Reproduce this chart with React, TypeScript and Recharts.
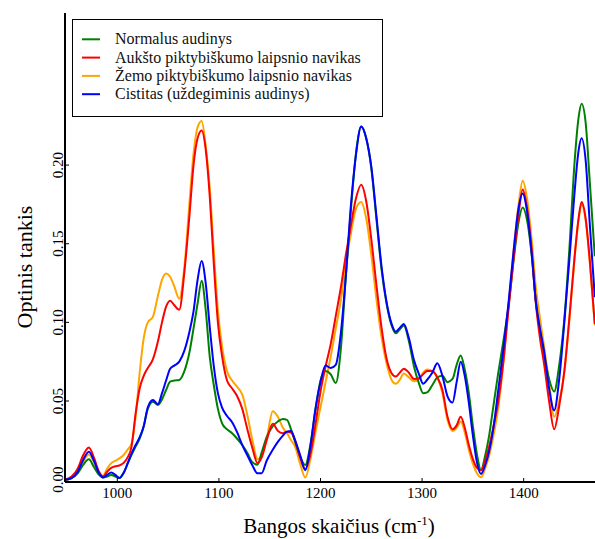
import React from "react";
import { LineChart, Line, XAxis, YAxis } from "recharts";

// wavenumber grid (cm-1)
const wavenumbers = [
  949, 955, 961, 966, 972, 977, 982, 986, 990, 994, 998,
  1002, 1006, 1010, 1014, 1018, 1022, 1026, 1030, 1035, 1040,
  1044, 1048, 1052, 1056, 1061, 1066, 1071, 1075, 1079, 1083,
  1087, 1091, 1095, 1099, 1103, 1108, 1113, 1118, 1123, 1128,
  1133, 1138, 1142, 1147, 1153, 1158, 1163, 1167, 1171, 1175,
  1180, 1185, 1190, 1195, 1200, 1205, 1210, 1215, 1220, 1225,
  1230, 1235, 1240, 1245, 1250, 1255, 1260, 1265, 1270, 1274,
  1278, 1282, 1287, 1292, 1297, 1301, 1305, 1310, 1315, 1320,
  1325, 1330, 1334, 1338, 1342, 1346, 1350, 1354, 1358, 1362,
  1366, 1370, 1375, 1380, 1385, 1390, 1395, 1399, 1403, 1408,
  1412, 1416, 1420, 1425, 1430, 1435, 1440, 1445, 1450, 1454,
  1457, 1461, 1465, 1470,
];

const normal = [
  0.0, 0.001, 0.004, 0.009, 0.0129, 0.008, 0.003, 0.0013, 0.002, 0.003, 0.002,
  0.001, 0.004, 0.01, 0.0157, 0.021, 0.026, 0.034, 0.045, 0.0496, 0.0475,
  0.051, 0.057, 0.0623, 0.063, 0.0634, 0.069, 0.081, 0.096, 0.112, 0.1265,
  0.108, 0.078, 0.06, 0.045, 0.036, 0.032, 0.0295, 0.026, 0.022, 0.017,
  0.011, 0.0095, 0.017, 0.027, 0.034, 0.037, 0.0385, 0.038, 0.032, 0.024,
  0.0146, 0.0093, 0.022, 0.044, 0.063, 0.069, 0.067, 0.0615, 0.083, 0.13,
  0.172, 0.208, 0.2245, 0.217, 0.198, 0.166, 0.134, 0.112, 0.098, 0.093,
  0.0955, 0.098, 0.088, 0.072, 0.061, 0.055, 0.0555, 0.06, 0.065, 0.066,
  0.062, 0.064, 0.073, 0.079, 0.07, 0.055, 0.034, 0.016, 0.006, 0.015,
  0.028, 0.046, 0.068, 0.088, 0.11, 0.139, 0.164, 0.173, 0.166, 0.142,
  0.113, 0.095, 0.08, 0.064, 0.056, 0.073, 0.102, 0.147, 0.201, 0.23,
  0.239, 0.227, 0.19, 0.142,
];

const highGrade = [
  0.0, 0.002, 0.007, 0.015, 0.0205, 0.014, 0.005, 0.002, 0.005, 0.0075, 0.0085,
  0.009, 0.0105, 0.014, 0.021, 0.042, 0.058, 0.066, 0.071, 0.0765, 0.088,
  0.1, 0.11, 0.1138, 0.111, 0.108, 0.132, 0.168, 0.2, 0.217, 0.222,
  0.21, 0.18, 0.137, 0.1, 0.079, 0.063, 0.058, 0.053, 0.045, 0.032,
  0.02, 0.0105, 0.014, 0.025, 0.0355, 0.031, 0.0295, 0.0305, 0.03, 0.025,
  0.014, 0.0066, 0.016, 0.035, 0.056, 0.072, 0.086, 0.104, 0.122, 0.143,
  0.162, 0.179, 0.1875, 0.177, 0.153, 0.124, 0.097, 0.077, 0.0676, 0.0655,
  0.068, 0.0705, 0.068, 0.064, 0.0645, 0.067, 0.069, 0.069, 0.065, 0.057,
  0.04, 0.032, 0.0345, 0.04, 0.033, 0.022, 0.013, 0.0075, 0.006, 0.012,
  0.021, 0.033, 0.05, 0.075, 0.108, 0.14, 0.169, 0.1845, 0.174, 0.145,
  0.112, 0.09, 0.074, 0.05, 0.032, 0.047, 0.069, 0.103, 0.141, 0.166,
  0.1765, 0.166, 0.14, 0.099,
];

const lowGrade = [
  0.0, 0.001, 0.005, 0.011, 0.016, 0.011, 0.004, 0.0025, 0.007, 0.0105, 0.012,
  0.0135, 0.0155, 0.019, 0.023, 0.04, 0.068, 0.09, 0.1, 0.1035, 0.117,
  0.127, 0.131, 0.129, 0.123, 0.115, 0.135, 0.176, 0.207, 0.224, 0.228,
  0.212, 0.185, 0.145, 0.108, 0.085, 0.069, 0.063, 0.059, 0.054, 0.041,
  0.025, 0.013, 0.015, 0.026, 0.0435, 0.04, 0.033, 0.0295, 0.025, 0.021,
  0.01, 0.0013, 0.013, 0.03, 0.046, 0.062, 0.078, 0.096, 0.114, 0.137,
  0.157, 0.1725, 0.1765, 0.166, 0.143, 0.115, 0.091, 0.074, 0.0634, 0.061,
  0.0635, 0.0675, 0.065, 0.0625, 0.064, 0.068, 0.07, 0.069, 0.065, 0.055,
  0.038, 0.031, 0.033, 0.037, 0.03, 0.019, 0.01, 0.004, 0.0015, 0.007,
  0.015, 0.027, 0.046, 0.074, 0.11, 0.145, 0.175, 0.19, 0.18, 0.152,
  0.122, 0.103, 0.085, 0.062, 0.04, 0.05, 0.068, 0.102, 0.14, 0.165,
  0.175, 0.165, 0.139, 0.098,
];

const cystitis = [
  0.0, 0.001, 0.005, 0.012, 0.0178, 0.012, 0.004, 0.0013, 0.003, 0.0045, 0.003,
  0.001, 0.004, 0.01, 0.0167, 0.022, 0.027, 0.034, 0.046, 0.0506, 0.048,
  0.055, 0.063, 0.0705, 0.0725, 0.075, 0.082, 0.094, 0.107, 0.127, 0.139,
  0.125, 0.097, 0.072, 0.055, 0.046, 0.0405, 0.0365, 0.03, 0.022, 0.0155,
  0.009, 0.004, 0.004, 0.012, 0.019, 0.024, 0.028, 0.0305, 0.031, 0.025,
  0.0155, 0.006, 0.021, 0.045, 0.062, 0.0725, 0.071, 0.073, 0.093, 0.13,
  0.175, 0.207, 0.2245, 0.217, 0.199, 0.168, 0.136, 0.113, 0.099, 0.094,
  0.0965, 0.099, 0.09, 0.076, 0.067, 0.061, 0.0635, 0.068, 0.074, 0.066,
  0.053, 0.049, 0.062, 0.075, 0.066, 0.049, 0.028, 0.011, 0.0036, 0.009,
  0.018, 0.032, 0.057, 0.083, 0.112, 0.145, 0.173, 0.182, 0.172, 0.143,
  0.113, 0.096, 0.082, 0.058, 0.044, 0.064, 0.1, 0.14, 0.182, 0.209,
  0.217, 0.203, 0.163, 0.116,
];

const xTicks = [1000, 1100, 1200, 1300, 1400];
const yTicks = [0, 0.05, 0.1, 0.15, 0.2];

// legend order
const seriesKeys = ["normal", "highGrade", "lowGrade", "cystitis"];
const seriesNames = [
  "Normalus audinys",
  "Aukšto piktybiškumo laipsnio navikas",
  "Žemo piktybiškumo laipsnio navikas",
  "Cistitas (uždegiminis audinys)",
];
const seriesColors = ["#008000", "#ff0000", "#ffa500", "#0000ff"];
// drawing order (orange under red)
const drawOrder = [2, 0, 1, 3];

const data = wavenumbers.map((wn, i) => ({
  wn,
  normal: normal[i],
  highGrade: highGrade[i],
  lowGrade: lowGrade[i],
  cystitis: cystitis[i],
}));

const X_DOMAIN: [number, number] = [948.5, 1470.2];
const Y_DOMAIN: [number, number] = [-0.0015, 0.2967];
const FONT = '"Liberation Serif", "Times New Roman", serif';

function XTick(props: any) {
  const { x, y, payload } = props;
  return (
    <g>
      <line x1={x} x2={x} y1={y - 4} y2={y - 8} stroke="#000" strokeWidth={1} />
      <text x={x} y={y} dy={12} textAnchor="middle" fontSize={15} fontFamily={FONT} fill="#000">
        {payload.value}
      </text>
    </g>
  );
}

function YTick(props: any) {
  const { x, y, payload } = props;
  return (
    <g>
      <line x1={x + 2} x2={x + 6} y1={y} y2={y} stroke="#000" strokeWidth={1} />
      <text
        x={x}
        y={y}
        transform={`rotate(-90, ${x}, ${y})`}
        textAnchor="middle"
        fontSize={15}
        fontFamily={FONT}
        fill="#000"
      >
        {Number(payload.value).toFixed(2)}
      </text>
    </g>
  );
}

export default function App() {
  return (
    <div style={{ position: "absolute", left: 0, top: 0, width: 595, height: 539, background: "#fff" }}>
      <LineChart width={595} height={539} data={data} margin={{ top: 13, right: 0, bottom: 0, left: 0 }}>
        <XAxis
          xAxisId="top"
          orientation="top"
          type="number"
          dataKey="wn"
          domain={X_DOMAIN}
          height={0}
          tick={false}
          tickLine={false}
          axisLine={{ stroke: "#000", strokeWidth: 2 }}
          allowDataOverflow
        />
        <XAxis
          type="number"
          dataKey="wn"
          domain={X_DOMAIN}
          ticks={xTicks}
          interval={0}
          height={57}
          tickSize={0}
          tickMargin={4}
          tick={<XTick />}
          axisLine={{ stroke: "#000", strokeWidth: 2 }}
          allowDataOverflow
        />
        <YAxis
          type="number"
          domain={Y_DOMAIN}
          ticks={yTicks}
          interval={0}
          width={65}
          tickSize={0}
          tickMargin={2}
          tick={<YTick />}
          axisLine={{ stroke: "#000", strokeWidth: 2 }}
          allowDataOverflow
        />
        {drawOrder.map((i) => (
          <Line
            key={seriesKeys[i]}
            dataKey={seriesKeys[i]}
            name={seriesNames[i]}
            type="monotone"
            stroke={seriesColors[i]}
            strokeWidth={2}
            dot={false}
            isAnimationActive={false}
          />
        ))}
      </LineChart>
      <svg
        width={595}
        height={539}
        style={{ position: "absolute", left: 0, top: 0, pointerEvents: "none" }}
      >
        <rect x={72.5} y={19.5} width={310} height={97} fill="#fff" stroke="#000" strokeWidth={1} />
        {seriesNames.map((name, i) => {
          const cy = 39.3 + i * 18.3;
          return (
            <g key={name}>
              <line x1={82} x2={100} y1={cy} y2={cy} stroke={seriesColors[i]} strokeWidth={2} />
              <text x={115} y={cy + 5} fontSize={16} fontFamily={FONT} fill="#111">
                {name}
              </text>
            </g>
          );
        })}
        <text
          x={32}
          y={267}
          transform="rotate(-90, 32, 267)"
          textAnchor="middle"
          fontSize={22}
          fontFamily={FONT}
          fill="#000"
        >
          Optinis tankis
        </text>
        <text x={339} y={533} textAnchor="middle" fontSize={21} fontFamily={FONT} fill="#000">
          Bangos skaičius (cm
          <tspan fontSize={13} dy={-8}>-1</tspan>
          <tspan dy={8}>)</tspan>
        </text>
      </svg>
    </div>
  );
}
